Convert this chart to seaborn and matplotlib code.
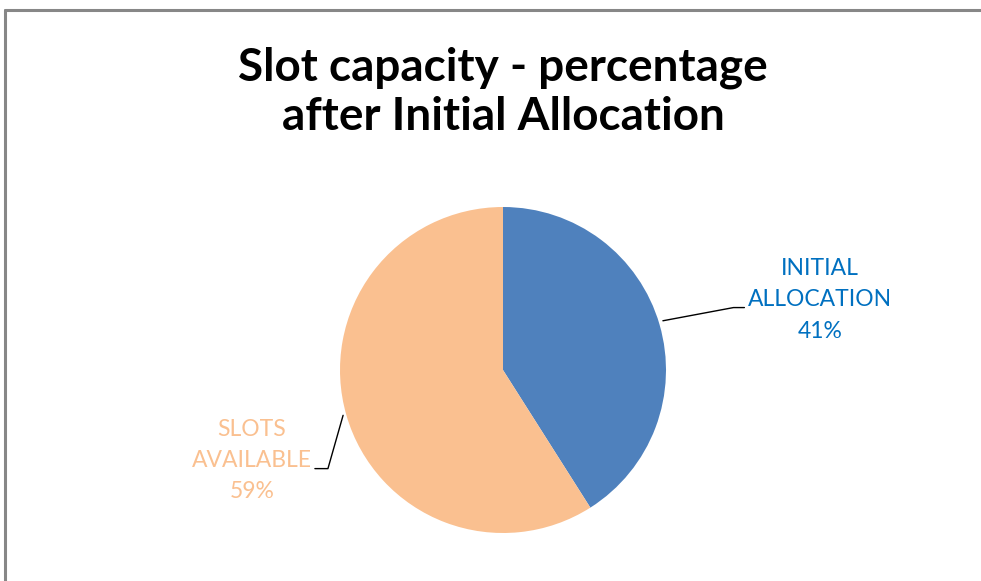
import matplotlib
matplotlib.use("Agg")
import matplotlib.pyplot as plt
import seaborn as sns

# Slot capacity after initial allocation
categories = ["INITIAL\nALLOCATION", "SLOTS\nAVAILABLE"]
shares = [41, 59]
colors = ["#4F81BD", "#FAC090"]
label_colors = ["#0070C0", "#FAC090"]

sns.set_theme(style="white")
plt.rcParams["font.family"] = ["Lato", "DejaVu Sans"]

W, H = 981, 581
fig = plt.figure(figsize=(W / 100, H / 100), dpi=100)

# frame of the chart area (only top and left edges visible)
fig.add_artist(plt.Line2D([5 / W, 5 / W], [0, 1 - 10 / H], color="#878787", lw=2.2))
fig.add_artist(plt.Line2D([5 / W, 1], [1 - 10 / H, 1 - 10 / H], color="#878787", lw=2.2))

fig.text(503 / W, 1 - 92 / H, "Slot capacity - percentage\nafter Initial Allocation",
         ha="center", va="center", fontsize=33, fontweight="bold",
         linespacing=1.22, color="black")

cx, cy, r = 503, 370, 163
ax = fig.add_axes([(cx - r) / W, (H - cy - r) / H, 2 * r / W, 2 * r / H])
ax.pie(shares, colors=colors, startangle=90, counterclock=False,
       wedgeprops=dict(linewidth=0))
ax.set_xlim(-1, 1)
ax.set_ylim(-1, 1)
ax.set_aspect("equal")
ax.axis("off")

# data labels with leader lines
label_pos = [(1.945, 0.43), (-1.54, -0.556)]
leaders = [
    [(0.981, 0.302), (1.414, 0.383), (1.481, 0.383)],
    [(-0.981, -0.278), (-1.074, -0.605), (-1.154, -0.605)],
]
for cat, val, (lx, ly), pts, c in zip(categories, shares, label_pos, leaders, label_colors):
    ax.text(lx, ly, f"{cat}\n{val}%", ha="center", va="center", fontsize=16.5,
            color=c, linespacing=1.6, clip_on=False)
    xs, ys = zip(*pts)
    ax.plot(xs, ys, color="black", lw=1, clip_on=False)

fig.savefig("out.png", dpi=100, facecolor="white")
